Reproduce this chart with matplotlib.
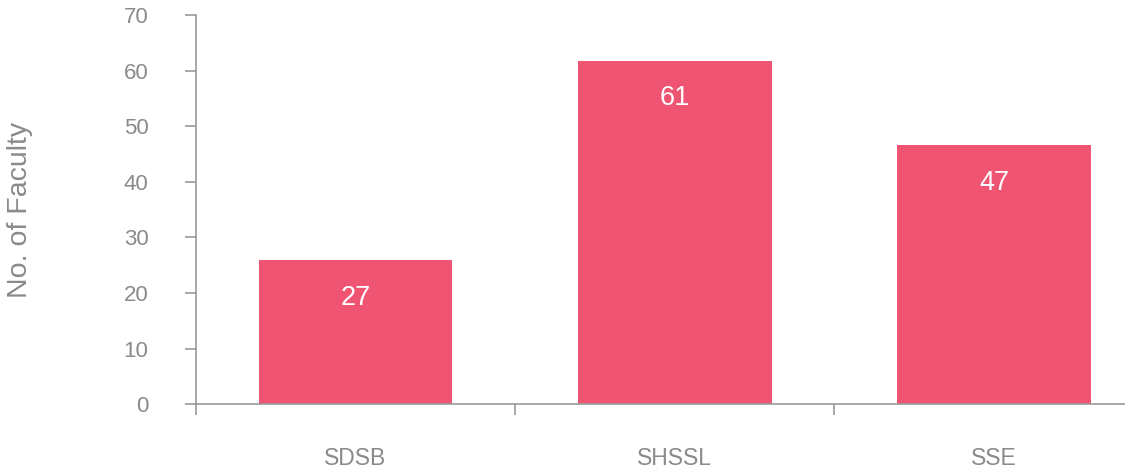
import numpy as np
import matplotlib as mpl
import matplotlib.pyplot as plt

mpl.rcParams['font.family'] = ['Liberation Sans', 'DejaVu Sans']

# data
schools = ['SDSB', 'SHSSL', 'SSE']
bar_heights = [25.9, 61.8, 46.6]
bar_labels = ['27', '61', '47']

bar_color = '#EF5573'
grey_text = '#8A8A8A'
axis_grey = '#9A9A9A'

fig = plt.figure(figsize=(11.25, 4.76), dpi=100)
ax = fig.add_axes([0.174, 0.151, 0.826, 0.817])

x = np.arange(len(schools))
bars = ax.bar(x, bar_heights, width=0.606, color=bar_color)

# value labels inside the bars
for b, lab in zip(bars, bar_labels):
    ax.annotate(lab, (b.get_x() + b.get_width() / 2, b.get_height()),
                xytext=(0, -27), textcoords='offset points',
                ha='center', va='center', color='white', fontsize=19.5)

ax.set_xlim(-0.5, 2.41)
ax.set_ylim(0, 70)
ax.set_yticks(np.arange(0, 71, 10))

# group boundary ticks on the x axis, names as text below
ax.set_xticks([-0.5, 0.5, 1.5])
ax.set_xticklabels([])
ax.tick_params(axis='x', length=8, width=1.2, color=axis_grey, direction='out')
for xi, name in zip(x, schools):
    ax.text(xi, -0.141, name, transform=ax.get_xaxis_transform(),
            ha='center', va='center', color=grey_text, fontsize=16.5)

ax.tick_params(axis='y', length=8, width=1.2, color=axis_grey,
               labelcolor=grey_text, labelsize=16, pad=26)

ax.spines['top'].set_visible(False)
ax.spines['right'].set_visible(False)
ax.spines['left'].set_color(axis_grey)
ax.spines['bottom'].set_color(axis_grey)
ax.spines['left'].set_linewidth(1.2)
ax.spines['bottom'].set_linewidth(1.2)

ax.set_ylabel('No. of Faculty', color=grey_text, fontsize=20.5)
ax.yaxis.set_label_coords(-0.175, 0.5)

plt.savefig('out.png', dpi=100)
